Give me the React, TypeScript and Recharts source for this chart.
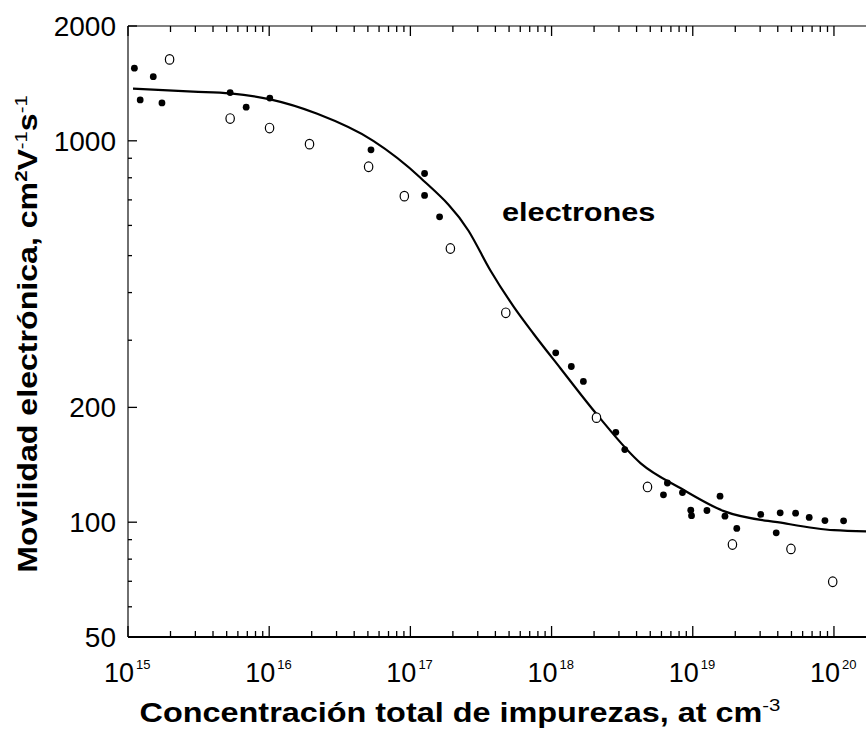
import React from 'react';
import { ComposedChart, Scatter, Line, XAxis, YAxis } from 'recharts';

// Filled dots (electron mobility data)
const filledX = [1.11e15, 1.51e15, 1.22e15, 1.74e15, 5.29e15, 6.87e15, 1.01e16, 5.26e16, 1.26e17, 1.26e17, 1.61e17, 1.07e18, 1.38e18, 1.68e18, 2.85e18, 3.3e18, 6.2e18, 6.61e18, 8.45e18, 9.68e18, 9.8e18, 1.26e19, 1.56e19, 1.69e19, 2.05e19, 3.03e19, 3.9e19, 4.16e19, 5.35e19, 6.68e19, 8.63e19, 1.17e20];
const filledY = [1550, 1473, 1280, 1257, 1338, 1225, 1294, 947, 821, 719, 632, 278, 256, 234, 172, 155, 118, 126.7, 119.6, 107.5, 104, 107.3, 117, 103.7, 96.3, 104.8, 93.8, 105.8, 105.6, 102.9, 101, 100.8];

// Open circles
const openX = [1.97e15, 5.29e15, 1.006e16, 1.93e16, 5.06e16, 9.06e16, 1.92e17, 4.74e17, 2.08e18, 4.78e18, 1.91e19, 4.96e19, 9.8e19];
const openY = [1635, 1144, 1080, 980, 855, 716, 522, 354, 188, 123.7, 87.4, 85.1, 69.8];

// Fitted curve
const curveX = [1.085e15, 2.89e15, 5.29e15, 1.016e16, 2.19e16, 5.46e16, 1.178e17, 2.58e17, 3.69e17, 5.37e17, 7.45e17, 1.158e18, 2.12e18, 4.28e18, 8.22e18, 1.66e19, 4.42e19, 1e20, 1.8e20];
const curveY = [1371, 1346, 1331, 1284, 1177, 1000, 800, 581, 457, 368, 312, 253, 190.6, 142.7, 122.7, 106.9, 99.4, 95.3, 94.6];

const xMajorTicks = [1e15, 1e16, 1e17, 1e18, 1e19, 1e20];
const xMinorMultipliers = [2, 3, 4, 5, 6, 7, 8, 9];
const yMajorTicks = [50, 100, 200, 1000, 2000];
const yMinorTicks = [60, 70, 80, 90, 300, 400, 500, 600, 700, 800, 900];

const FONT = '"Liberation Sans", Arial, sans-serif';

const filledData = filledX.map((x, i) => ({ x, y: filledY[i] }));
const openData = openX.map((x, i) => ({ x, y: openY[i] }));
const curveData = curveX.map((x, i) => ({ x, y: curveY[i] }));
const xTicks: number[] = [];
xMajorTicks.forEach((d) => {
  xTicks.push(d);
  xMinorMultipliers.forEach((m) => xTicks.push(d * m));
});
const yTicks = [...yMajorTicks, ...yMinorTicks];

const isMajorX = (v: number) => Math.abs(Math.log10(v) - Math.round(Math.log10(v))) < 1e-6;

const XTickBottom = (props: any) => {
  const { x, y, payload } = props;
  const v = payload.value;
  const major = isMajorX(v);
  const exp = Math.round(Math.log10(v));
  return (
    <g>
      <line x1={x} x2={x} y1={y} y2={y - (major ? 11 : 6)} stroke="#000" strokeWidth={1.3} />
      {major && (
        <text x={x + 6} y={y + 45} textAnchor="end" fontSize={27} fontFamily={FONT} fill="#000">10</text>
      )}
      {major && (
        <text x={x + 8} y={y + 32} textAnchor="start" fontSize={13} fontFamily={FONT} fill="#000">{exp}</text>
      )}
    </g>
  );
};

const XTickTop = (props: any) => {
  const { x, y, payload } = props;
  const major = isMajorX(payload.value);
  return <line x1={x} x2={x} y1={y} y2={y + (major ? 10 : 6)} stroke="#000" strokeWidth={1.3} />;
};

const YTick = (props: any) => {
  const { x, y, payload } = props;
  const v = payload.value;
  const major = yMajorTicks.includes(v);
  return (
    <g>
      <line x1={x} x2={x + (major ? 9 : 4)} y1={y} y2={y} stroke="#000" strokeWidth={1.3} />
      {major && (
        <text x={x - 12} y={y} dy="0.36em" textAnchor="end" fontSize={28} fontFamily={FONT} fill="#000">{v}</text>
      )}
    </g>
  );
};

const FilledDot = (props: any) => <circle cx={props.cx} cy={props.cy} r={3.4} fill="#000" />;
const OpenDot = (props: any) => (
  <ellipse cx={props.cx} cy={props.cy} rx={4.2} ry={4.8} fill="#fff" stroke="#000" strokeWidth={1.2} />
);

export default function App() {
  return (
    <div style={{ position: 'absolute', left: 0, top: 0, width: 866, height: 733, overflow: 'hidden', background: '#fff' }}>
      <ComposedChart
        width={900}
        height={733}
        margin={{ top: 25, right: 30, left: 127, bottom: 95 }}
      >
        <XAxis
          dataKey="x"
          type="number"
          scale="log"
          domain={[1e15, 1.8e20]}
          allowDataOverflow
          ticks={xTicks}
          interval={0}
          height={1}
          tickSize={0}
          tickMargin={0}
          tick={<XTickBottom />}
          axisLine={{ stroke: '#000', strokeWidth: 2 }}
          tickLine={false}
        />
        <XAxis
          xAxisId="top"
          orientation="top"
          dataKey="x"
          type="number"
          scale="log"
          domain={[1e15, 1.8e20]}
          allowDataOverflow
          ticks={xTicks}
          interval={0}
          height={1}
          tickSize={0}
          tickMargin={0}
          tick={<XTickTop />}
          axisLine={{ stroke: '#000', strokeWidth: 1.2 }}
          tickLine={false}
        />
        <YAxis
          dataKey="y"
          type="number"
          scale="log"
          domain={[50, 2000]}
          allowDataOverflow
          ticks={yTicks}
          interval={0}
          width={1}
          tickSize={0}
          tickMargin={0}
          tick={<YTick />}
          axisLine={{ stroke: '#222', strokeWidth: 1.3 }}
          tickLine={false}
        />
        <Line
          data={curveData}
          dataKey="y"
          type="monotone"
          stroke="#000"
          strokeWidth={2.2}
          dot={false}
          activeDot={false}
          isAnimationActive={false}
        />
        <Scatter data={filledData} dataKey="y" shape={<FilledDot />} isAnimationActive={false} />
        <Scatter data={openData} dataKey="y" shape={<OpenDot />} isAnimationActive={false} />
      </ComposedChart>
      <svg width={866} height={733} style={{ position: 'absolute', left: 0, top: 0, pointerEvents: 'none' }}>
        <text
          x={0}
          y={0}
          transform="translate(502, 221) scale(1.18, 1)"
          fontSize={26}
          fontWeight="bold"
          fontFamily={FONT}
          fill="#000"
        >
          electrones
        </text>
        <text
          x={0}
          y={0}
          transform="translate(37, 334) rotate(-90) scale(1.19, 1)"
          textAnchor="middle"
          fontSize={27}
          fontWeight="bold"
          fontFamily={FONT}
          fill="#000"
        >
          Movilidad electrónica, cm<tspan dy={-10} fontSize={17}>2</tspan>
          <tspan dy={10}>V</tspan>
          <tspan dy={-10} fontSize={17} fontWeight="normal">-1</tspan>
          <tspan dy={10}>s</tspan>
          <tspan dy={-10} fontSize={17} fontWeight="normal">-1</tspan>
        </text>
        <text
          x={0}
          y={0}
          transform="translate(460, 722) scale(1.2, 1)"
          textAnchor="middle"
          fontSize={27}
          fontWeight="bold"
          fontFamily={FONT}
          fill="#000"
        >
          Concentración total de impurezas, at cm<tspan dy={-11} fontSize={17} fontWeight="normal">-3</tspan>
        </text>
      </svg>
    </div>
  );
}
